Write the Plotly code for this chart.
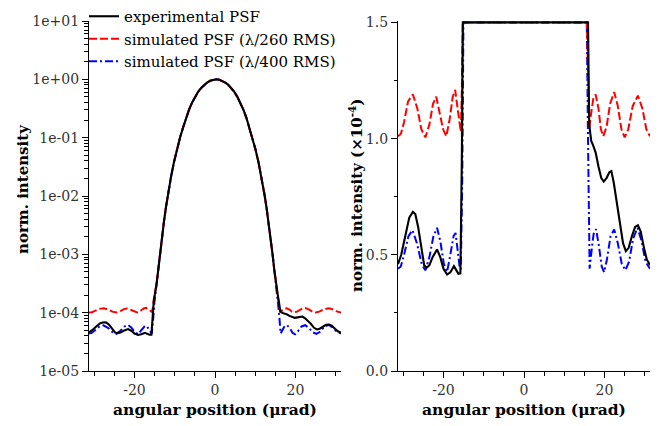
import plotly.graph_objects as go
from plotly.subplots import make_subplots

# ---------------- data ----------------
# central lobe (shared by all three curves), normalized intensity
core_x = [-14.5, -14.1, -13.7, -13.2, -12.7, -12.2, -11.7, -10.95, -10.2, -9.45, -8.7, -7.95,
          -7.2, -6.45, -5.7, -4.95, -4.2, -3.45, -2.7, -1.95, -1.2, -0.45, 0.3,
          1.05, 1.8, 2.55, 3.3, 4.05, 4.8, 5.55, 6.3, 7.05, 7.8, 8.55, 9.3, 10.05, 10.8,
          11.55, 12.3, 12.8, 13.3, 13.8, 14.3, 14.7, 15.1]
core_y = [3.16e-4, 5.62e-4, 1.00e-3, 1.91e-3, 3.55e-3, 6.31e-3, 1.05e-2, 2.09e-2, 3.80e-2,
          6.31e-2, 0.100, 0.148, 0.219, 0.302, 0.398, 0.501, 0.610, 0.708, 0.804, 0.881,
          0.944, 0.986, 1.0,
          0.986, 0.944, 0.881, 0.804, 0.708, 0.610, 0.501, 0.398, 0.302, 0.219, 0.148, 0.100,
          6.31e-2, 3.80e-2, 2.09e-2, 1.05e-2, 6.31e-3, 3.55e-3, 1.91e-3, 1.00e-3, 5.62e-4, 3.16e-4]

# side lobes, in units of 1e-4
exp_left_x = [-31.3, -30.5, -29.5, -28.5, -27.6, -27.0, -26.3, -25.5, -24.8, -24.2, -23.5, -22.7,
              -21.6, -20.8, -20.0, -19.1, -18.3, -17.4, -16.8, -16.3, -15.8, -15.45, -15.2]
exp_left_v = [0.46, 0.50, 0.58, 0.66, 0.685, 0.675, 0.62, 0.52, 0.455, 0.444, 0.455, 0.49,
              0.523, 0.49, 0.44, 0.415, 0.425, 0.451, 0.43, 0.418, 0.42, 0.9, 1.6]
exp_right_x = [15.6, 15.9, 16.2, 16.7, 17.2, 17.8, 18.5, 19.2, 19.8, 20.5, 21.2, 21.7, 22.3, 23.1,
               23.8, 24.6, 25.3, 26.0, 26.8, 27.6, 28.3, 29.0, 29.8, 30.5, 31.3]
exp_right_v = [2.0, 1.5, 1.06, 0.99, 0.97, 0.94, 0.88, 0.83, 0.815, 0.83, 0.855, 0.86, 0.81, 0.72,
               0.645, 0.55, 0.516, 0.53, 0.58, 0.62, 0.627, 0.60, 0.53, 0.48, 0.455]

s260_left_x = [-31.3, -30.6, -29.8, -28.8, -27.6, -26.5, -25.5, -24.5, -23.5, -22.6, -21.8, -21.0,
               -20.1, -19.3, -18.5, -17.7, -17.1, -16.5, -16.0, -15.7, -15.45, -15.2]
s260_left_v = [1.01, 1.02, 1.07, 1.16, 1.19, 1.13, 1.04, 1.005, 1.06, 1.15, 1.18, 1.12,
               1.04, 1.01, 1.08, 1.18, 1.21, 1.13, 1.05, 1.03, 1.2, 1.7]
s260_right_x = [15.6, 15.9, 16.2, 16.6, 17.2, 17.8, 18.5, 19.1, 19.7, 20.5, 21.4, 22.4, 23.3, 24.2,
                25.0, 25.9, 27.0, 28.3, 29.4, 30.4, 31.3]
s260_right_v = [1.9, 1.3, 1.04, 1.10, 1.17, 1.19, 1.13, 1.04, 1.01, 1.05, 1.15, 1.20, 1.14, 1.04,
                1.005, 1.04, 1.14, 1.185, 1.13, 1.04, 1.01]

s400_left_x = [-31.3, -30.6, -29.8, -28.7, -27.7, -26.6, -25.4, -24.5, -23.5, -22.5, -21.6, -20.8,
               -19.9, -19.1, -18.3, -17.5, -17.0, -16.5, -16.0, -15.7, -15.35, -15.05]
s400_left_v = [0.44, 0.45, 0.50, 0.58, 0.606, 0.55, 0.46, 0.433, 0.49, 0.58, 0.616, 0.56,
               0.46, 0.427, 0.50, 0.58, 0.594, 0.53, 0.45, 0.437, 0.8, 1.5]
s400_right_x = [15.6, 15.9, 16.3, 16.8, 17.3, 17.9, 18.6, 19.3, 19.9, 20.6, 21.5, 22.4, 23.3, 24.3,
                25.2, 26.1, 27.1, 28.2, 29.2, 30.2, 31.3]
s400_right_v = [1.8, 1.0, 0.44, 0.52, 0.59, 0.61, 0.54, 0.45, 0.425, 0.48, 0.58, 0.609, 0.55, 0.46,
                0.434, 0.47, 0.57, 0.616, 0.56, 0.47, 0.44]

names = ["experimental PSF", "simulated PSF (λ/260 RMS)", "simulated PSF (λ/400 RMS)"]
x_ticks = [-20, 0, 20]
log_tickvals = [1e-5, 1e-4, 1e-3, 1e-2, 1e-1, 1e0, 1e1]
log_ticktext = ["1e-05", "1e-04", "1e-03", "1e-02", "1e-01", "1e+00", "1e+01"]
lin_tickvals = [0.0, 0.5, 1.0, 1.5]
lin_ticktext = ["0.0", "0.5", "1.0", "1.5"]
SCALE = 1e-4
CLIP = 1.5


def build(lx, lv, rx, rv):
    x = list(lx) + core_x + list(rx)
    y = [v * SCALE for v in lv] + core_y + [v * SCALE for v in rv]
    return x, y


series = {
    "exp": build(exp_left_x, exp_left_v, exp_right_x, exp_right_v),
    "s260": build(s260_left_x, s260_left_v, s260_right_x, s260_right_v),
    "s400": build(s400_left_x, s400_left_v, s400_right_x, s400_right_v),
}

styles = {
    "exp": dict(color="black", width=2.1, dash="solid"),
    "s260": dict(color="#ff0000", width=2, dash="8px,3px"),
    "s400": dict(color="#0000ff", width=2, dash="8px,3px,2px,3px"),
}
label = {"exp": names[0], "s260": names[1], "s400": names[2]}

FONT = "DejaVu Serif"

fig = make_subplots(rows=1, cols=2)

# drawn bottom-to-top: blue, red, black; legend reversed -> black, red, blue
for key in ["s400", "s260", "exp"]:
    x, y = series[key]
    fig.add_trace(go.Scatter(x=x, y=y, mode="lines", line=styles[key], name=label[key],
                             showlegend=True), row=1, col=1)
for key in ["s400", "s260", "exp"]:
    x, y = series[key]
    fig.add_trace(go.Scatter(x=x, y=[min(v / SCALE, CLIP) for v in y], mode="lines",
                             line=styles[key], name=label[key], showlegend=False), row=1, col=2)

W, H = 665, 426
ytop, ybot = 21, 371
axis_common = dict(showline=True, linecolor="black", linewidth=1.3, ticks="outside",
                   tickcolor="black", ticklen=6, tickwidth=1.2, showgrid=False, zeroline=False,
                   tickfont=dict(family=FONT, size=14, color="#333"), mirror=False,
                   automargin=False)

xaxis_common = dict(axis_common, range=[-31.3, 31.3], tickmode="array", tickvals=x_ticks,
                    ticktext=[str(t) for t in x_ticks],
                    minor=dict(ticks="outside", dtick=5, tick0=0, ticklen=4, tickcolor="black", tickwidth=1.2),
                    title=dict(text="<b>angular position (μrad)</b>",
                               font=dict(family=FONT, size=15.5, color="black"), standoff=7))

title_font = dict(family=FONT, size=15, color="black")

fig.update_layout(
    width=W, height=H, margin=dict(l=0, r=0, t=0, b=0, autoexpand=False),
    paper_bgcolor="white", plot_bgcolor="white",
    showlegend=True,
    legend=dict(x=84 / W, y=1.0, xanchor="left", yanchor="top", bgcolor="rgba(0,0,0,0)",
                traceorder="reversed",
                font=dict(family=FONT, size=15, color="black"), borderwidth=0),
    xaxis=dict(xaxis_common, domain=[89 / W, 341 / W]),
    xaxis2=dict(xaxis_common, domain=[398 / W, 650 / W]),
    yaxis=dict(axis_common, type="log", range=[-5, 1], domain=[1 - ybot / H, 1 - ytop / H],
               tickmode="array", tickvals=log_tickvals, ticktext=log_ticktext,
               minor=dict(ticks="outside", tickmode="array",
                          tickvals=[m * 10 ** e for e in range(-5, 1) for m in range(2, 10)],
                          ticklen=4, tickcolor="black", tickwidth=1.2)),
    yaxis2=dict(axis_common, range=[0, 1.506], domain=[1 - ybot / H, 1 - ytop / H],
                tickmode="array", tickvals=lin_tickvals, ticktext=lin_ticktext,
                minor=dict(ticks="outside", tickmode="array", tickvals=[0.25, 0.75, 1.25],
                           ticklen=3, tickcolor="black", tickwidth=1.2)),
    annotations=[
        dict(text="<b>norm. intensity</b>", xref="paper", yref="paper",
             x=23 / W, y=1 - 189 / H, textangle=-90, showarrow=False,
             xanchor="center", yanchor="middle", font=title_font),
        dict(text="<b>norm. intensity (×10<sup>-4</sup>)</b>", xref="paper", yref="paper",
             x=356 / W, y=1 - 196 / H, textangle=-90, showarrow=False,
             xanchor="center", yanchor="middle", font=title_font),
    ],
)

fig.write_html("out.html")
